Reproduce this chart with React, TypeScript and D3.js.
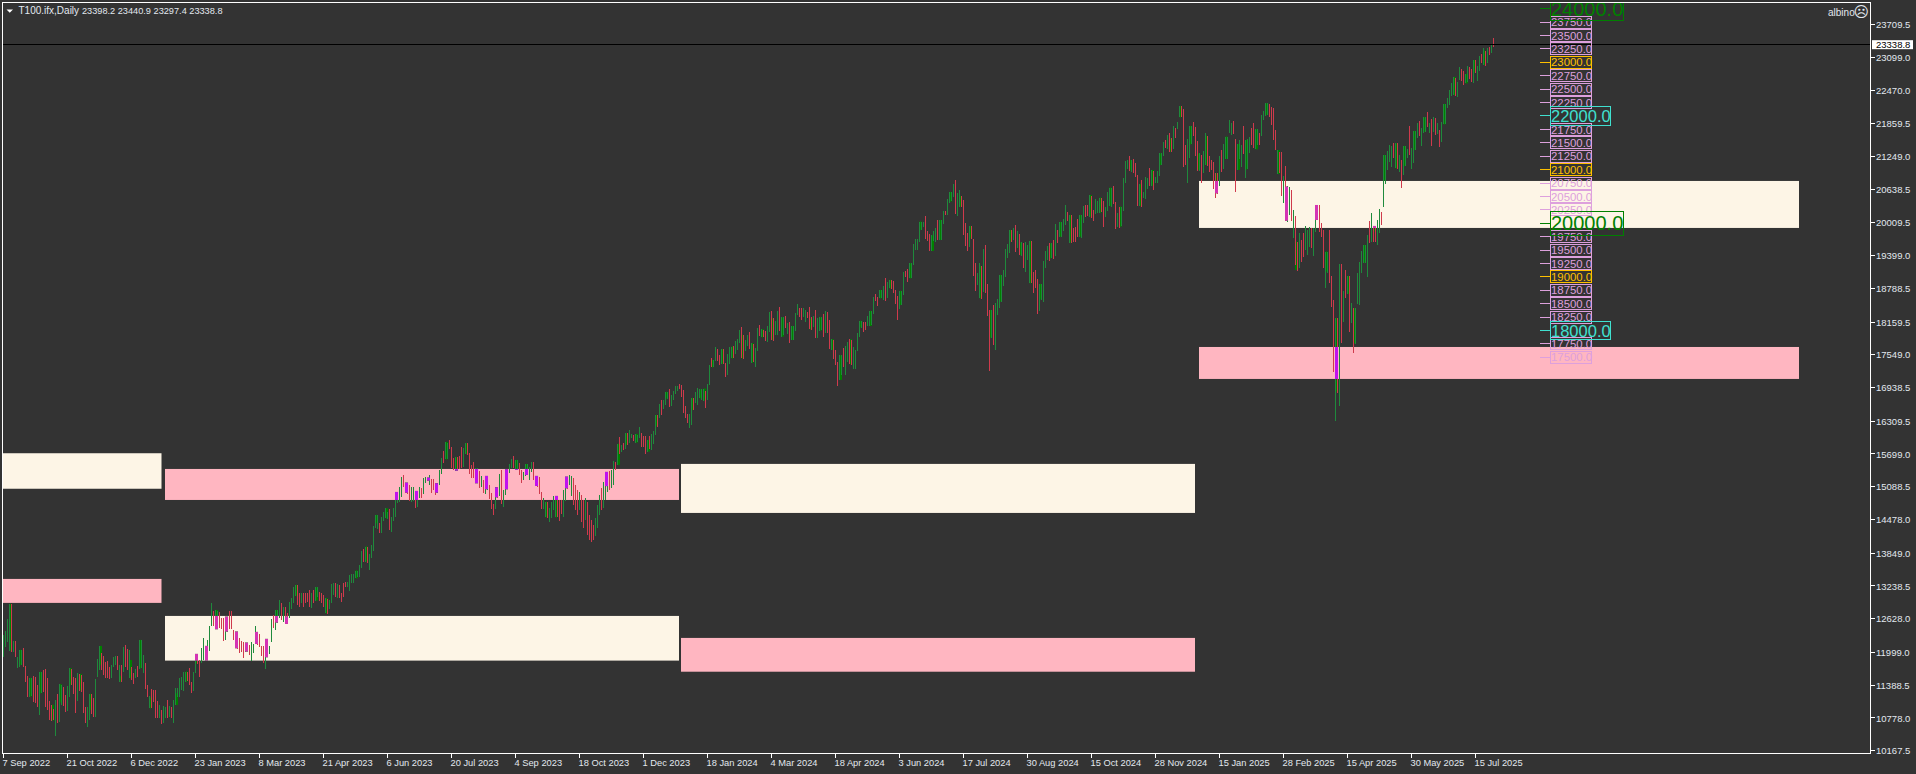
import React from 'react';
import * as d3 from 'd3';

const WIDTH = 1916;
const HEIGHT = 774;

// daily bars: 10 values per row
const highs = [
  12326,12401,12618,12904,12904,12221,12221,11923,12047,12047,
  12078,11749,11562,11525,11525,11562,11550,11394,11637,11643,
  11674,11687,11519,11103,11022,10941,11115,11227,11407,11394,
  11363,11208,11376,11705,11687,11550,11519,11612,11600,11581,
  11457,10978,10991,11227,11227,11146,11500,11873,12121,11985,
  11935,11829,11848,11736,11767,11910,11935,11935,11767,11767,
  12097,12134,12072,12047,11736,11612,11699,11749,12233,12233,
  11954,11798,11394,11190,11314,11301,11301,11103,11022,10928,
  11003,10991,11115,11003,10991,11115,11332,11345,11519,11537,
  11643,11643,11631,11718,11457,11643,11972,11954,11860,12084,
  12264,12121,12233,12494,12917,12780,12792,12780,12761,12637,
  12637,12668,12668,12780,12780,12420,12389,12345,12264,12215,
  12202,12183,12171,12140,12202,12159,12494,12382,12345,12121,
  12121,12252,12252,12121,12618,12699,12792,12792,12979,12929,
  12842,12855,12730,12948,13010,13215,13258,13258,13115,13115,
  13103,13115,13115,13165,13115,13165,13215,13215,13134,13115,
  13072,13010,12991,12979,13277,13289,13289,13277,13258,13115,
  13302,13321,13321,13445,13463,13463,13526,13526,13631,13898,
  13929,13972,13972,13836,14004,14358,14563,14563,14420,14519,
  14625,14687,14625,14668,14519,14687,14991,14991,15091,15277,
  15308,15165,15153,15122,15091,15091,15010,15010,15091,15060,
  15259,15265,15259,15308,15234,15234,15153,15165,15401,15631,
  15756,15923,15911,15961,15824,15619,15638,15650,15662,15824,
  15805,15898,15898,15712,15495,15557,15433,15433,15389,15290,
  15215,15290,15290,15122,14967,14768,15078,15078,15327,15401,
  15029,15414,15414,15513,15606,15662,15588,15588,15526,15401,
  15370,15513,15513,15464,15544,15544,15290,15246,15277,14991,
  14873,14805,14805,14687,14811,14917,14917,14904,14842,14842,
  15029,15277,15277,15308,15290,15253,15122,15029,14992,14936,
  14842,14880,14805,14563,14470,14377,14507,14749,14936,15066,
  15178,15364,15327,15383,15401,15570,15557,15887,16011,15868,
  15911,16085,16085,16147,16073,16054,16073,16054,16203,16085,
  16042,16036,15961,16042,16073,16129,16427,16421,16632,16707,
  16707,16856,16856,16912,16794,16874,16968,16961,17005,16986,
  16893,16595,16440,16446,16744,16744,16856,16930,16905,16918,
  16918,16874,17005,17359,17483,17452,17701,17651,17545,17651,
  17651,17390,17558,17701,17701,17713,17806,17837,18011,18061,
  17918,17825,17918,17974,17763,17750,17670,18049,18105,18024,
  18011,17999,18086,18347,18366,18229,18179,18359,18434,18247,
  18247,18272,18136,18167,18086,18086,18335,18496,18415,18415,
  18415,18384,18341,18434,18247,18272,18384,18229,18247,18247,
  18310,18359,18347,18198,17837,17825,17639,17415,17539,17546,
  17682,17713,17794,17838,17825,17701,17639,17950,18180,18180,
  18161,18167,18273,18366,18366,18633,18683,18633,18757,18757,
  18838,18987,18900,18944,18944,18925,18757,18652,18739,18739,
  19099,19111,19155,19254,19254,19615,19708,19708,20031,20031,
  20031,20137,19863,19801,19776,19857,19907,20062,20062,20062,
  20230,20224,20453,20584,20584,20733,20808,20571,20621,20509,
  20435,20012,19826,19950,19950,19708,19267,19068,19254,19205,
  19521,19596,18869,18384,18384,18478,18509,18583,19037,19037,
  19130,19521,19615,19876,19876,19907,19969,19857,19801,19652,
  19640,19652,19596,19671,19671,19099,19130,18956,18869,18869,
  19298,19484,19577,19627,19627,19689,19981,19876,20025,20025,
  20074,20342,20205,20155,20155,19907,19925,20081,20155,20155,
  20323,20341,20341,20528,20509,20248,20453,20416,20478,20478,
  20416,20310,20590,20665,20665,20696,20397,20199,20310,20310,
  20845,21168,21180,21255,21180,21199,21131,20901,20733,20807,
  20590,20857,20839,21025,20994,20975,20870,20975,21304,21304,
  21522,21553,21646,21690,21584,21814,21783,21895,22187,22187,
  22131,21460,21565,21814,21814,21882,21802,21541,21304,21273,
  21348,21677,21628,21255,21180,21137,20932,20932,21255,21367,
  21478,21615,21615,21926,21876,21907,21565,21478,21553,21460,
  21814,21553,21565,21615,21770,21864,21752,21752,21690,22019,
  22100,22236,22236,22224,22162,22143,21739,21367,21336,21336,
  20882,21068,20696,20683,20621,20248,20136,19658,19813,19689,
  19813,19950,19875,19925,19907,19907,20341,20341,20341,20012,
  19875,19472,19472,19875,19018,18571,18229,18229,19242,19242,
  18739,19130,19018,19018,18521,18415,18415,19080,19285,19484,
  19596,19596,19782,20043,20186,19950,19950,20062,20261,20211,
  21273,21273,21354,21460,21441,21491,21491,21503,21273,21180,
  21441,21441,21379,21814,21398,21721,21721,21864,21907,21770,
  21975,21975,22069,21864,21938,21975,21957,21876,21739,21895,
  22224,22224,22329,22485,22621,22727,22702,22640,22920,22870,
  22845,22783,22932,22920,22870,23044,23044,22932,23118,23156,
  23268,23218,23261,23280,23342,23454,
];

const lows = [
  11923,12109,12202,12028,12016,12016,11910,11705,11736,11767,
  11736,11457,11177,11177,11189,11084,11053,10978,10835,11239,
  11270,10991,10928,10742,10730,10742,10450,10692,10699,11022,
  11003,10897,10916,11177,11394,11227,10866,11103,11289,11270,
  10866,10680,10618,10742,10854,10804,10804,11550,11674,11674,
  11581,11519,11519,11500,11519,11724,11767,11674,11457,11457,
  11643,11736,11674,11519,11488,11413,11519,11537,11687,11705,
  11612,11314,11165,10960,10960,11084,10773,10773,10773,10668,
  10692,10773,10773,10804,10773,10692,11022,11177,11177,11301,
  11289,11457,11469,11394,11252,11289,11612,11786,11550,11798,
  11860,11848,11892,12034,12494,12494,12432,12432,12451,12432,
  12215,12233,12389,12432,12432,12233,12078,12059,11997,12016,
  11904,12016,12047,11954,11848,11985,12159,12140,12097,11935,
  11811,11687,11910,11972,12202,12451,12420,12556,12650,12606,
  12575,12531,12525,12637,12805,12917,13053,12886,12855,12929,
  12855,12929,12948,12842,12823,12917,12966,13041,12966,12929,
  12855,12730,12718,12805,12917,13072,13041,13010,13010,12948,
  13041,13215,13215,13153,13289,13302,13383,13401,13413,13575,
  13693,13693,13674,13538,13755,13898,14314,14296,14233,14233,
  14457,14501,14482,14283,14252,14457,14532,14793,14811,14904,
  15091,14979,14954,14830,14811,14830,14699,14718,14873,14873,
  14954,15165,15203,15122,14967,15029,14935,14979,15122,15327,
  15526,15600,15600,15787,15433,15401,15389,15414,15426,15433,
  15451,15700,15681,15327,15246,15246,15153,15165,15060,15078,
  14967,14954,15029,14855,14668,14563,14681,14873,14917,14768,
  14706,14935,15041,15352,15433,15433,15401,15401,15308,15165,
  15215,15290,15308,15215,15370,15215,15103,15091,14954,14681,
  14668,14519,14507,14432,14501,14656,14519,14519,14457,14581,
  14532,14830,15041,15122,14917,14749,14656,14563,14656,14432,
  14321,14470,14190,14097,14060,14097,14172,14321,14563,14656,
  14693,14842,14992,15029,15066,15122,15402,15495,15700,15744,
  15775,15787,15868,15911,15992,15949,15911,15930,15992,15837,
  15837,15700,15744,15787,15775,15887,16054,16197,16365,16427,
  16533,16613,16719,16582,16595,16707,16818,16868,16905,16769,
  16471,16365,16284,16191,16241,16520,16645,16613,16738,16707,
  16694,16564,16707,16986,17316,17316,17440,17440,17359,17378,
  17378,17142,17173,17378,17483,17496,17564,17639,17775,17483,
  17471,17626,17713,17657,17403,17421,17328,17626,17900,17875,
  17875,17806,17794,17980,17825,17813,17918,17918,17999,17887,
  17918,18042,17931,17775,17825,17825,17999,18291,18260,18198,
  18247,18161,18229,18024,18011,18061,17869,17869,17999,18011,
  17887,17949,17949,17664,17639,17477,17365,16974,17080,17173,
  17328,17173,17421,17372,17359,17285,17285,17620,17887,18055,
  17974,18012,18086,18086,18099,18310,18558,18459,18602,18602,
  18571,18552,18602,18788,18770,18708,18490,18198,18403,18478,
  18664,18993,18900,18975,18987,19223,19503,19503,19658,19876,
  19925,19708,19677,19484,19484,19671,19658,19689,19689,19689,
  19987,20149,20155,20385,20422,20485,20174,20137,20311,20298,
  19782,19584,19484,19553,19708,19018,18739,18850,18602,18583,
  18726,18708,18273,17248,17869,17732,17639,18291,18422,18527,
  18832,19006,19360,19441,19658,19689,19472,19534,19410,19391,
  19167,19099,19316,18882,18882,18708,18801,18310,18366,18571,
  18540,19174,19316,19304,19348,19335,19391,19627,19751,19751,
  19857,19969,20043,19640,19640,19646,19658,19751,19751,19733,
  20012,20124,20136,20124,20105,20043,20174,20199,20199,20211,
  19931,20124,20236,20323,20310,20360,19900,19925,19907,19950,
  20236,20758,21006,20975,20963,20944,20870,20323,20323,20310,
  20466,20460,20634,20696,20702,20621,20758,20758,20882,21087,
  21255,21398,21379,21336,21336,21385,21597,21752,21976,21976,
  21056,21087,20758,21224,21472,21628,21261,20975,20975,20758,
  20932,21087,21075,20963,20994,20640,20478,20547,20696,20963,
  21006,21199,21193,21677,21646,21665,20590,20994,21199,21044,
  21292,20839,21006,21304,21460,21398,21379,21460,21460,21628,
  21926,22000,22019,21976,21833,21553,21367,20919,20932,20509,
  20385,20049,20031,20155,20049,19720,19223,19117,19161,19285,
  19378,19503,19409,19565,19534,19397,19844,20093,19844,19751,
  19173,18801,19080,18894,18446,17235,16322,16844,16601,17776,
  18167,18602,18683,17981,18136,17589,17751,18496,18478,19080,
  19267,19267,19006,19639,19658,19658,19658,19596,19813,19969,
  20310,20733,20994,21149,21056,21211,21025,21012,20963,20652,
  20901,21068,21211,21273,21012,21118,21367,21584,21628,21441,
  21690,21708,21789,21677,21447,21708,21646,21665,21416,21522,
  21845,21845,22155,22205,22373,22391,22373,22360,22671,22659,
  22578,22609,22640,22683,22640,22621,22808,22659,22845,22982,
  22951,22932,22982,23137,23180,23292,
];

// g = up bar, r = down bar
const directions = [
  'ggggrgrggg','rrrggrrrgg','rrrrrrgrgg','rrggrrrgrr','rrggrrgggr',
  'rrrrgggrgr','grrgrrgrgg','grrgrrrrgr','ggrgrggggg','ggrrrggrrg',
  'gggggrggrr','rggrrrrrrr','rggrgggrrr','rgrggrgggr','grrggggrrg',
  'rrrrgrggrr','rgrgggrgrr','rrgggggggg','rgrgggggrg','gggrgggggg',
  'rrrrggrggr','ggrgrrrggg','rggrrrgrrr','ggrrrrggrg','rggrrrgrgr',
  'ggrggrggrr','gggggrrrrr','ggrggggrrr','ggrggrrrgr','rgrrrrgggr',
  'gggrggrgrg','rgrggrgggr','rrgrgggrgr','gggrggggrr','rrrggrgggg',
  'grggrggrrg','rrgggrgggr','rggrgrggrg','rrggrrggrg','grgrggggrr',
  'ggrrrgrggg','rgrrgrrrgg','rggrrggggg','rrggggrrgg','grggrrrrgg',
  'grrggggggg','grrrgggrgg','grggggrggr','rrrgrrrggr','grrrgrgggg',
  'ggggrgrgrg','rgggrrrrgg','gggrgrgrgg','ggrgrrrrgg','grrgrrgggr',
  'rggggrrgrg','gggrgrrrgr','gggrgrgggg','grgrrgrggr','rrgggrrrgr',
  'ggrrrrrrgr','gggggrrggg','rgggrrggrg','gggrrrrgrr','grggrgrrgr',
  'rgggrgggrr','rggrrrgrgr','grgrgrgggg','gggrgrrggr','gggggrgrgr',
  'gggrggggrg','ggrgrgrgrg','ggggggrggr','rggrrgrggr','grgrgr',
];

// weekly bodies: bar index with its open and close
const bodyBars = [
  3,8,13,18,24,28,33,38,43,48,58,63,68,73,86,91,96,101,106,111,116,121,126,131,136,141,146,156,161,176,
  181,186,191,196,201,206,212,216,221,226,231,236,241,246,251,256,261,266,271,276,281,301,
  307,311,316,322,326,331,344,348,350,354,359,364,369,374,379,384,389,394,403,408,414,418,
  423,428,433,438,443,448,453,458,464,468,473,478,483,488,493,498,503,508,513,518,523,528,533,
  538,543,548,553,558,563,568,574,578,583,588,593,597,601,606,611,617,621,626,631,637,641,646,
  656,661,666,672,675,680,685,690,696,700,705,710,720,725,731,735,740,
];
const bodyTops = [
  12904,12047,11525,11637,11022,11407,11705,11600,11227,12121,11562,11860,12233,11165,11239,11643,11972,12121,12792,12668,12389,12183,12382,12252,12792,12668,13258,13215,13010,13526,
  13973,14563,14687,14991,15165,15010,15259,15153,15924,15638,15899,15433,15290,15078,15414,15588,15513,15290,14805,14917,15277,15365,
  15887,16085,16073,15961,16427,16856,16744,16905,16918,17452,17651,17701,17918,17763,18024,18229,18247,18086,18229,18247,17837,17539,
  17838,18180,18366,18757,18944,18739,19254,20031,19776,20062,20584,20509,19950,19205,18384,19037,19876,19640,19671,18869,19627,20025,20155,
  20155,20528,20478,20665,20310,21180,20733,20994,21304,21584,22187,21814,21304,21628,20932,21615,21478,21553,21752,22236,21367,20683,19658,
  20341,19472,18229,19018,18415,19596,19950,21273,21491,21441,21721,21975,22224,22727,22783,23044,23218,
];
const bodyBottoms = [
  12028,11767,11177,11239,10730,11065,11394,11288,10928,11767,11456,11518,11705,10959,11021,11456,11798,11848,12432,12388,12078,12015,12158,11910,12556,12531,13053,12966,12730,13382,
  13693,14407,14501,14842,14979,14842,15203,14979,15600,15389,15700,15153,15041,14892,15041,15402,15308,15103,14519,14519,15060,15100,
  15495,15868,15911,15744,16222,16738,16520,16738,16694,17316,17378,17483,17483,17403,17875,17825,17887,17825,18024,17999,17639,17080,
  17372,18061,18086,18602,18788,18478,18975,19876,19484,19689,20404,20311,19720,18602,17869,18540,19658,19410,18882,18583,19348,19751,19640,
  19751,20124,20199,20323,19938,20994,20323,20702,21087,21336,21976,21472,20994,21087,20559,21199,20994,21006,21379,22019,20919,20049,19130,
  20062,19099,16862,18683,17763,19267,19844,20795,21025,21068,21367,21708,21845,22391,22609,22808,22951,
];

// supply and demand zones (bar index span, price span)
const zoneKinds = ['cream','pink','pink','cream','cream','pink','cream','pink'];
const zoneStarts = [-1,-1,80.75,80.75,338.75,338.75,597.75,597.75];
const zoneEnds = [79,79,337.75,337.75,595.75,595.75,897.75,897.75];
const zoneTops = [15713,13370,15420,12680,15514,12270,20789,17694];
const zoneBottoms = [15051,12923,14842,11847,14600,11640,19913,17098];

const levels = d3.range(17500, 24001, 250);
const bigLevels = [24000, 20000];
const midLevels = [22000, 18000];
const goldLevels = [23000, 21000, 19000];

const priceTicks = [
  23709.5,23099,22470,21859.5,21249,20638.5,20009.5,19399,18788.5,18159.5,17549,16938.5,
  16309.5,15699,15088.5,14478,13849,13238.5,12628,11999,11388.5,10778,10167.5,
];
const dateLabels = [
  '7 Sep 2022','21 Oct 2022','6 Dec 2022','23 Jan 2023','8 Mar 2023','21 Apr 2023','6 Jun 2023','20 Jul 2023',
  '4 Sep 2023','18 Oct 2023','1 Dec 2023','18 Jan 2024','4 Mar 2024','18 Apr 2024','3 Jun 2024','17 Jul 2024',
  '30 Aug 2024','15 Oct 2024','28 Nov 2024','15 Jan 2025','28 Feb 2025','15 Apr 2025','30 May 2025','15 Jul 2025',
];
const lastPrice = 23338.8;

const BG = '#333333';
const FONT = '"Liberation Sans", Arial, sans-serif';
const TEXT = '#e2e8ef';
const UP = '#1f8a3c';
const UP_BODY = '#008000';
const DOWN = '#cf3a4c';
const ZONE_FILL: Record<string, string> = { cream: '#fdf5e6', pink: '#ffb6c1' };
const XOR_FILL: Record<string, string> = { cream: '#d433b4', pink: '#c012ee' };

const frame = { left: 2.5, top: 2.5, right: 1870.5, bottom: 753.5 };

const x = d3.scaleLinear().domain([0, 745]).range([3.5, 1493.5]);
const y = d3.scaleLinear().domain([10167.5, 23709.5]).range([750.7, 24.3]);

function levelStyle(level: number) {
  if (bigLevels.includes(level)) return { color: '#008000', size: 20, width: 73.4, half: 12, rank: 3 };
  if (midLevels.includes(level)) return { color: '#40e0d0', size: 16.5, width: 60.4, half: 9.2, rank: 2 };
  if (goldLevels.includes(level)) return { color: '#ffc000', size: 11.4, width: 41.4, half: 6, rank: 1 };
  return { color: '#dda0dd', size: 11.4, width: 41.4, half: 6, rank: 0 };
}

export default function App() {
  const dirs = directions.join('');

  // the bodies turn magenta where they cross a zone
  const overlays: { key: string; bar: number; top: number; bottom: number; fill: string }[] = [];
  bodyBars.forEach((bar, i) => {
    zoneKinds.forEach((kind, z) => {
      if (bar < zoneStarts[z] || bar > zoneEnds[z]) return;
      const top = Math.min(bodyTops[i], zoneTops[z]);
      const bottom = Math.max(bodyBottoms[i], zoneBottoms[z]);
      if (top > bottom) overlays.push({ key: `${bar}-${z}`, bar, top, bottom, fill: XOR_FILL[kind] });
    });
  });

  const orderedLevels = [...levels].sort((a, b) => levelStyle(a).rank - levelStyle(b).rank);

  return (
    <svg
      width={WIDTH}
      height={HEIGHT}
      style={{ position: 'fixed', left: 0, top: 0, display: 'block', background: BG }}
      fontFamily={FONT}
    >
      <defs>
        <clipPath id="plot">
          <rect x={frame.left} y={frame.top} width={frame.right - frame.left} height={frame.bottom - frame.top} />
        </clipPath>
      </defs>

      <g clipPath="url(#plot)">
        {zoneKinds.map((kind, i) => (
          <rect
            key={i}
            x={x(zoneStarts[i])}
            y={y(zoneTops[i])}
            width={x(zoneEnds[i]) - x(zoneStarts[i])}
            height={y(zoneBottoms[i]) - y(zoneTops[i])}
            fill={ZONE_FILL[kind]}
          />
        ))}

        {bodyBars.map((bar, i) => (
          <rect
            key={bar}
            x={x(bar) - 0.5}
            y={y(bodyTops[i])}
            width={3}
            height={y(bodyBottoms[i]) - y(bodyTops[i])}
            fill={UP_BODY}
          />
        ))}

        {highs.map((high, i) => (
          <line
            key={i}
            x1={x(i)}
            x2={x(i)}
            y1={y(high)}
            y2={y(lows[i])}
            stroke={dirs[i] === 'g' ? UP : DOWN}
            strokeWidth={1}
            shapeRendering="crispEdges"
          />
        ))}

        {overlays.map(o => (
          <rect
            key={o.key}
            x={x(o.bar) - 0.5}
            y={y(o.top)}
            width={3}
            height={y(o.bottom) - y(o.top)}
            fill={o.fill}
          />
        ))}

        <line x1={frame.left} x2={frame.right} y1={y(lastPrice)} y2={y(lastPrice)} stroke="#000" strokeWidth={1} shapeRendering="crispEdges" />

        {orderedLevels.map(level => {
          const s = levelStyle(level);
          const ly = y(level);
          return (
            <g key={level}>
              <line x1={1540} x2={1550} y1={ly} y2={ly} stroke={s.color} strokeWidth={1} shapeRendering="crispEdges" />
              <rect x={1550.5} y={ly - s.half} width={s.width} height={s.half * 2} fill="none" stroke={s.color} strokeWidth={1} shapeRendering="crispEdges" />
              <text x={1551} y={ly + s.size * 0.36} fontSize={s.size} fill={s.color}>
                {level.toFixed(1)}
              </text>
            </g>
          );
        })}
      </g>

      <rect
        x={frame.left}
        y={frame.top}
        width={frame.right - frame.left}
        height={frame.bottom - frame.top}
        fill="none"
        stroke="#fff"
        strokeWidth={1}
        shapeRendering="crispEdges"
      />

      {priceTicks.map(tick => (
        <g key={tick}>
          <line x1={frame.right} x2={frame.right + 4} y1={y(tick)} y2={y(tick)} stroke="#fff" shapeRendering="crispEdges" />
          <text x={1876} y={y(tick) + 3.6} fontSize={9.5} fill={TEXT}>
            {tick.toFixed(1)}
          </text>
        </g>
      ))}

      <rect x={1872} y={y(lastPrice) - 4} width={41} height={9} fill="#fff" />
      <text x={1876} y={y(lastPrice) + 3.6} fontSize={9.5} fill="#000">
        {lastPrice.toFixed(1)}
      </text>

      {dateLabels.map((label, i) => (
        <g key={label}>
          <line x1={x(i * 32)} x2={x(i * 32)} y1={frame.bottom} y2={frame.bottom + 4} stroke="#fff" shapeRendering="crispEdges" />
          <text x={x(i * 32) - 1} y={766} fontSize={9.3} fill={TEXT}>
            {label}
          </text>
        </g>
      ))}

      <path d="M6.5,9.5 L13,9.5 L9.75,12.8 Z" fill="#fff" />
      <text x={18.5} y={14} fontSize={10} fill={TEXT}>T100.ifx,Daily</text>
      <text x={82} y={14} fontSize={9.2} fill={TEXT}>23398.2 23440.9 23297.4 23338.8</text>

      <text x={1828} y={15.5} fontSize={10} fill={TEXT}>albino</text>
      <text x={1853.5} y={17} fontSize={15} fill={TEXT} fontFamily="DejaVu Sans">☹</text>
    </svg>
  );
}
